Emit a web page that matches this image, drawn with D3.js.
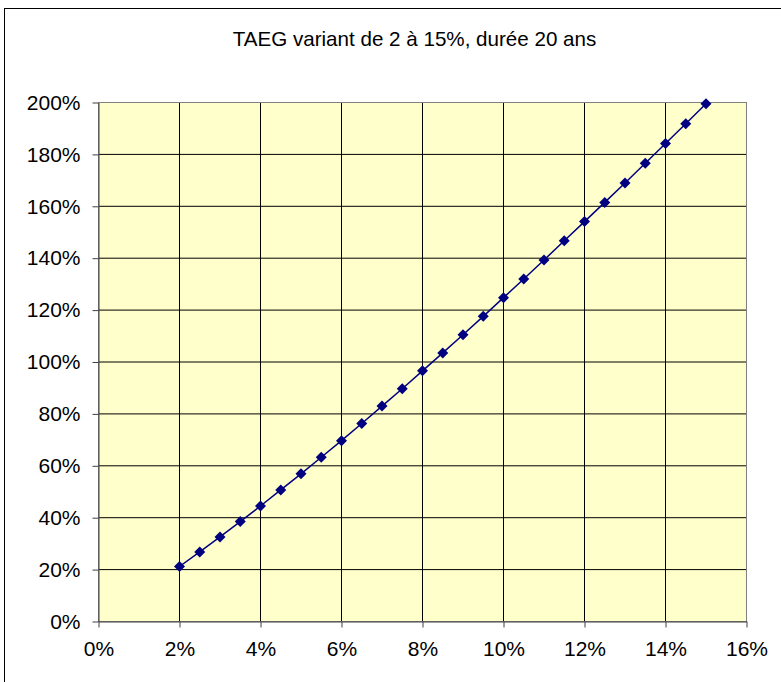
<!DOCTYPE html>
<html><head><meta charset="utf-8">
<script src="https://cdn.jsdelivr.net/npm/d3@7/dist/d3.min.js"></script>
<style>
html,body{margin:0;padding:0;background:#fff;}
svg{display:block;font-family:"Liberation Sans",Arial,sans-serif;}
</style></head>
<body>
<svg id="chart" width="781" height="682"></svg>
<script>
const title = "TAEG variant de 2 à 15%, durée 20 ans";
const rates = [2,2.5,3,3.5,4,4.5,5,5.5,6,6.5,7,7.5,8,8.5,9,9.5,10,10.5,11,11.5,12,12.5,13,13.5,14,14.5,15];
const costs = [21.2,26.8,32.6,38.5,44.5,50.7,56.9,63.3,69.7,76.3,83.0,89.7,96.6,103.5,110.5,117.6,124.8,132.0,139.3,146.7,154.1,161.5,169.0,176.6,184.2,191.8,199.5];
const xTicks = [0,2,4,6,8,10,12,14,16];
const yTicks = [0,20,40,60,80,100,120,140,160,180,200];

const svg = d3.select("#chart");
const L = 98.5, R = 746.5, T = 102.5, B = 621.5;
const x = d3.scaleLinear().domain([0,16]).range([L,R]);
const y = d3.scaleLinear().domain([0,200]).range([B,T]);

// outer frame
svg.append("rect").attr("x",4.5).attr("y",8.5).attr("width",790).attr("height",690)
  .attr("fill","none").attr("stroke","#000").attr("stroke-width",1);

// title
svg.append("text").attr("x",414.5).attr("y",46).attr("text-anchor","middle")
  .attr("font-size",20.6).attr("fill","#000").text(title);

// plot background
svg.append("rect").attr("x",L).attr("y",T).attr("width",R-L).attr("height",B-T)
  .attr("fill","#FFFFCC");

// grid
svg.append("g").selectAll("line").data(yTicks.slice(1,-1)).join("line")
  .attr("x1",L).attr("x2",R).attr("y1",d=>y(d)).attr("y2",d=>y(d))
  .attr("stroke","#000").attr("stroke-width",1);
svg.append("g").selectAll("line").data(xTicks.slice(1,-1)).join("line")
  .attr("y1",T).attr("y2",B).attr("x1",d=>x(d)).attr("x2",d=>x(d))
  .attr("stroke","#000").attr("stroke-width",1);

// plot border
svg.append("rect").attr("x",L).attr("y",T).attr("width",R-L).attr("height",B-T)
  .attr("fill","none").attr("stroke","#808080").attr("stroke-width",1);

// axes
const xAxis = d3.axisBottom(x).tickValues(xTicks).tickFormat(d=>d+"%").tickSizeInner(6).tickSizeOuter(0).tickPadding(14);
const gx = svg.append("g").attr("transform",`translate(0,${B})`).call(xAxis);
const yAxis = d3.axisLeft(y).tickValues(yTicks).tickFormat(d=>d+"%").tickSizeInner(6).tickSizeOuter(0).tickPadding(12);
const gy = svg.append("g").attr("transform",`translate(${L},0)`).call(yAxis);
[gx,gy].forEach(g=>{
  g.select(".domain").attr("stroke","#404040");
  g.selectAll(".tick line").attr("stroke","#404040");
  g.selectAll("text").attr("font-size",21).attr("fill","#000")
    .attr("font-family","'Liberation Sans',Arial,sans-serif");
});
gx.selectAll("text").attr("dy","0.71em");

// line
const pts = rates.map((r,i)=>[r,costs[i]]);
svg.append("path").datum(pts)
  .attr("d",d3.line().x(d=>x(d[0])).y(d=>y(d[1])))
  .attr("fill","none").attr("stroke","#000080").attr("stroke-width",1.5);

// markers
const s = 5.5;
svg.append("g").selectAll("path").data(pts).join("path")
  .attr("d",d=>{const cx=x(d[0]),cy=y(d[1]);return `M${cx},${cy-s}L${cx+s},${cy}L${cx},${cy+s}L${cx-s},${cy}Z`;})
  .attr("fill","#000080");
</script>
</body></html>
